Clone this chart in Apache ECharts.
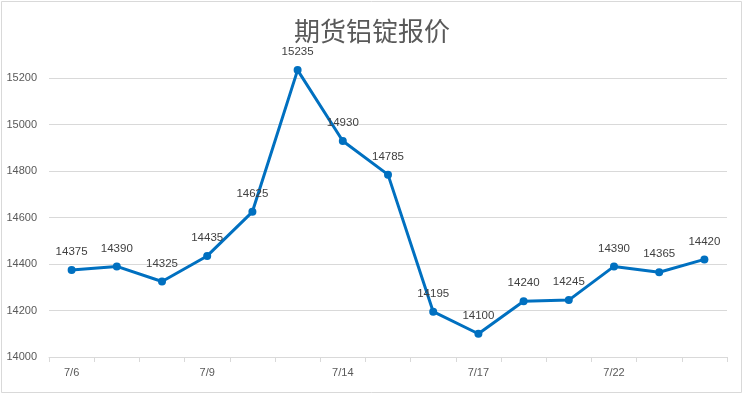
<!DOCTYPE html>
<html>
<head>
<meta charset="utf-8">
<script src="https://cdn.jsdelivr.net/npm/echarts@6/dist/echarts.min.js"></script>
<style>
  html, body { margin: 0; padding: 0; background: #fff; }
  #chart { width: 744px; height: 395px; }
</style>
</head>
<body>
<div id="chart"></div>
<script>
const titleText = '期货铝锭报价';
const categories = ['7/6', '7/7', '7/8', '7/9', '7/10', '7/13', '7/14', '7/15', '7/16', '7/17', '7/20', '7/21', '7/22', '7/23', '7/24'];
const prices = [14375, 14390, 14325, 14435, 14625, 15235, 14930, 14785, 14195, 14100, 14240, 14245, 14390, 14365, 14420];
const yMin = 14000;
const yMax = 15300;
const yStep = 200;

const chart = echarts.init(document.getElementById('chart'), null, { renderer: 'canvas' });
chart.setOption({
  animation: false,
  backgroundColor: '#ffffff',
  title: {
    text: titleText,
    left: 'center',
    top: 13,
    textStyle: {
      fontFamily: '"Noto Sans CJK SC", sans-serif',
      fontSize: 26,
      fontWeight: 'normal',
      color: '#595959'
    }
  },
  graphic: [{
    type: 'rect',
    shape: { x: 1.5, y: 1.5, width: 740, height: 391 },
    style: { fill: 'none', stroke: '#d9d9d9', lineWidth: 1 },
    silent: true
  }],
  grid: { left: 49, right: 17, top: 55, bottom: 38 },
  xAxis: {
    type: 'category',
    data: categories,
    boundaryGap: true,
    axisLine: { lineStyle: { color: '#d9d9d9', width: 1 } },
    axisTick: { show: true, interval: 0, length: 5, lineStyle: { color: '#d9d9d9' } },
    axisLabel: {
      interval: 2,
      margin: 10,
      color: '#595959',
      fontFamily: '"Liberation Sans", Arial, sans-serif',
      fontSize: 11
    },
    splitLine: { show: false }
  },
  yAxis: {
    type: 'value',
    min: yMin,
    max: yMax,
    interval: yStep,
    axisLine: { show: false },
    axisTick: { show: false },
    axisLabel: {
      showMaxLabel: false,
      margin: 12,
      formatter: function (v) { return String(v); },
      color: '#595959',
      fontFamily: '"Liberation Sans", Arial, sans-serif',
      fontSize: 11
    },
    splitLine: { show: true, showMaxLine: false, lineStyle: { color: '#d9d9d9', width: 1 } }
  },
  series: [{
    type: 'line',
    data: prices,
    symbol: 'circle',
    symbolSize: 8,
    lineStyle: { color: '#0070c0', width: 3 },
    itemStyle: { color: '#0070c0' },
    label: {
      show: true,
      position: 'top',
      distance: 8,
      color: '#404040',
      fontFamily: '"Liberation Sans", Arial, sans-serif',
      fontSize: 11.5
    }
  }]
});
</script>
</body>
</html>
